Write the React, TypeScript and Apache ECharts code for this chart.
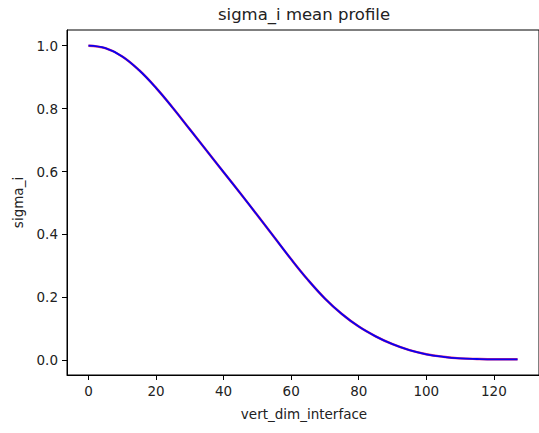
import React, { useEffect, useRef } from "react";
import * as echarts from "echarts";

const xValues = [0, 5, 10, 15, 20, 25, 30, 35, 40, 45, 50, 55, 60, 65, 70, 75, 80, 85, 90, 95, 100, 105, 110, 115, 120, 127];
const sigmaValues = [1.0, 0.992, 0.966, 0.922, 0.866, 0.802, 0.734, 0.666, 0.598, 0.53, 0.461, 0.391, 0.321, 0.255, 0.196, 0.147, 0.107, 0.076, 0.051, 0.032, 0.019, 0.011, 0.006, 0.004, 0.003, 0.003];
const xTicks = [0, 20, 40, 60, 80, 100, 120];
const yTicks = [0, 0.2, 0.4, 0.6, 0.8, 1.0];

const titleText = "sigma_i mean profile";
const xName = "vert_dim_interface";
const yName = "sigma_i";

export default function App() {
  const ref = useRef<HTMLDivElement>(null);
  useEffect(() => {
    if (!ref.current) return;
    const chart = echarts.init(ref.current, undefined, { renderer: "svg" });
    const pts = xValues.map((x, i) => [x, sigmaValues[i]]);
    const font = "DejaVu Sans";
    const gl = 67, gt = 30, gw = 474, gh = 345;
    chart.setOption({
      animation: false,
      backgroundColor: "#ffffff",
      grid: { left: gl, top: gt, width: gw, height: gh, show: true, borderColor: "#000", borderWidth: 1, backgroundColor: "transparent" },
      xAxis: {
        type: "value",
        min: -6.35,
        max: 133.35,
        splitLine: { show: false },
        axisLine: { show: true, onZero: false, lineStyle: { color: "#000", width: 1 } },
        axisTick: { show: true, length: 5, inside: false, customValues: xTicks, lineStyle: { color: "#000" } },
        axisLabel: { customValues: xTicks, color: "#222", fontFamily: font, fontSize: 13.5, margin: 9 },
      },
      yAxis: {
        type: "value",
        min: -0.0469,
        max: 1.0499,
        splitLine: { show: false },
        axisLine: { show: true, onZero: false, lineStyle: { color: "#000", width: 1 } },
        axisTick: { show: true, length: 5, inside: false, customValues: yTicks, lineStyle: { color: "#000" } },
        axisLabel: { customValues: yTicks, color: "#222", fontFamily: font, fontSize: 13.5, margin: 9, formatter: (v: number) => v.toFixed(1) },
      },
      graphic: [
        { type: "text", x: gl + gw / 2, y: 14, style: { text: titleText, fill: "#222", font: `16.5px "${font}"`, textAlign: "center", textVerticalAlign: "middle" } },
        { type: "text", x: gl + gw / 2, y: 414, style: { text: xName, fill: "#222", font: `13.5px "${font}"`, textAlign: "center", textVerticalAlign: "middle" } },
        { type: "text", x: 18, y: gt + gh / 2, rotation: Math.PI / 2, style: { text: yName, fill: "#222", font: `13.5px "${font}"`, textAlign: "center", textVerticalAlign: "middle" } },
      ],
      series: [
        { type: "line", data: pts, smooth: 0.4, symbol: "none", lineStyle: { color: "#e0307a", width: 2.4 }, z: 2 },
        { type: "line", data: pts, smooth: 0.4, symbol: "none", lineStyle: { color: "#0a00f0", width: 1.8 }, z: 3 },
      ],
    });
    return () => chart.dispose();
  }, []);
  return <div ref={ref} style={{ position: "absolute", left: 0, top: 0, width: 539, height: 433 }} />;
}
